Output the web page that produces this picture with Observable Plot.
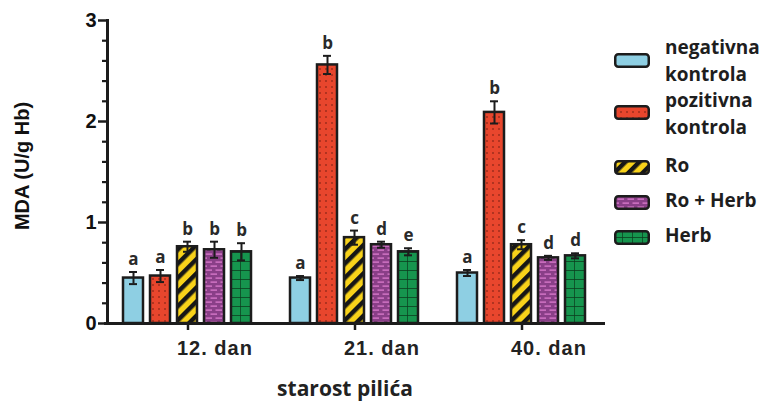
<!DOCTYPE html>
<html><head><meta charset="utf-8">
<script src="https://cdn.jsdelivr.net/npm/d3@7"></script>
<script src="https://cdn.jsdelivr.net/npm/@observablehq/plot@0.6"></script>
<style>
body{margin:0;background:#fff;}
#wrap{position:relative;width:762px;height:401px;overflow:hidden;background:#fff;}
.lt{position:absolute;left:665px;font-family:"Open Sans",sans-serif;font-weight:700;font-size:19px;line-height:26.7px;color:#1e1e1e;white-space:nowrap;}
.sw{position:absolute;left:612px;}
</style></head><body><div id="wrap"></div>
<script>
// ---- data ----
const groups = ["12. dan", "21. dan", "40. dan"];
const treatments = ["negativna kontrola", "pozitivna kontrola", "Ro", "Ro + Herb", "Herb"];
// mean MDA per treatment, across groups (12., 21., 40. dan)
const meanNeg    = [0.45, 0.45, 0.50];
const meanPoz    = [0.47, 2.56, 2.09];
const meanRo     = [0.76, 0.85, 0.78];
const meanRoHerb = [0.73, 0.78, 0.65];
const meanHerb   = [0.71, 0.71, 0.67];
// error (±)
const errNeg    = [0.06, 0.02, 0.03];
const errPoz    = [0.06, 0.09, 0.11];
const errRo     = [0.05, 0.07, 0.045];
const errRoHerb = [0.08, 0.03, 0.02];
const errHerb   = [0.085, 0.035, 0.025];
// significance letters
const letNeg    = ["a", "a", "a"];
const letPoz    = ["a", "b", "b"];
const letRo     = ["b", "c", "c"];
const letRoHerb = ["b", "d", "d"];
const letHerb   = ["b", "e", "d"];
const yMajor = [0, 1, 2, 3];
const yMinor = [0.2, 0.4, 0.6, 0.8, 1.2, 1.4, 1.6, 1.8, 2.2, 2.4, 2.6, 2.8];

const means = [meanNeg, meanPoz, meanRo, meanRoHerb, meanHerb];
const errs = [errNeg, errPoz, errRo, errRoHerb, errHerb];
const lets = [letNeg, letPoz, letRo, letRoHerb, letHerb];
const table = [];
groups.forEach((g, i) => treatments.forEach((t, j) => table.push({
  group: g, treatment: t, mean: means[j][i], err: errs[j][i], letter: lets[j][i]
})));

const fills = ["#8ecfe3", "url(#pPoz)", "url(#pRo)", "url(#pRoH)", "url(#pHerb)"];
const ink = "#1c1c1c";

const chart = Plot.plot({
  width: 762, height: 401,
  marginLeft: 104, marginRight: 157, marginTop: 20, marginBottom: 78,
  style: {background: "transparent", fontFamily: "Liberation Sans, Arial, sans-serif", overflow: "visible"},
  fx: {domain: groups, padding: 0, label: null},
  x: {domain: treatments, paddingInner: 0.257, paddingOuter: 0.654, axis: null},
  y: {domain: [0, 3], axis: null},
  color: {domain: treatments, range: fills},
  marks: [
    Plot.barY(table, {fx: "group", x: "treatment", y: "mean", fill: "treatment", stroke: ink, strokeWidth: 2.5}),
    Plot.ruleX(table, {fx: "group", x: "treatment", y1: d => d.mean - d.err, y2: d => d.mean + d.err, stroke: ink, strokeWidth: 2}),
    Plot.tickY(table, {fx: "group", x: "treatment", y: d => d.mean + d.err, insetLeft: 6, insetRight: 6, stroke: ink, strokeWidth: 2}),
    Plot.tickY(table, {fx: "group", x: "treatment", y: d => d.mean - d.err, insetLeft: 6, insetRight: 6, stroke: ink, strokeWidth: 2}),
    Plot.text(table, {fx: "group", x: "treatment", y: d => d.mean + d.err, text: "letter", lineAnchor: "bottom", dy: -7,
      fontSize: 17, fontWeight: "bold", fill: "#2a2a2a", fontFamily: "Open Sans"}),
    Plot.ruleY([0], {stroke: ink, strokeWidth: 3}),
    Plot.frame({anchor: "left", facetAnchor: "left", stroke: ink, strokeWidth: 3, dx: 3}),
    Plot.axisY(yMajor, {tickSize: 9, tickPadding: 2, dx: 3, fontSize: 20, fontWeight: "bold", fill: "#111",
      tickFormat: d => String(d), stroke: ink, strokeWidth: 2.5,
      label: "MDA (U/g Hb)", labelArrow: "none", labelAnchor: "center", labelOffset: 90}),
    Plot.axisY(yMinor, {tickSize: 5, dx: 3, tickFormat: () => "", stroke: ink, strokeWidth: 2.2, label: null}),
    Plot.axisFx({anchor: "bottom", tickSize: 7, tickFormat: () => "", stroke: ink, strokeWidth: 2.5, label: null}),
    Plot.axisFx({anchor: "bottom", tickSize: 0, tickPadding: 17, textAnchor: "start", dx: -11, fontSize: 20, fontWeight: "bold", fill: "#222",
      label: "starost pilića", labelArrow: "none", labelAnchor: "center", labelOffset: 72})
  ]
});

const defs = `
<pattern id="pPoz" patternUnits="userSpaceOnUse" width="6" height="6">
  <rect width="6" height="6" fill="#e8462d"/><circle cx="3" cy="3" r="0.8" fill="#6b1a0e"/></pattern>
<pattern id="pRo" patternUnits="userSpaceOnUse" width="10" height="10" patternTransform="rotate(45)">
  <rect width="10" height="10" fill="#f8d21a"/><rect width="4.5" height="10" fill="#161616"/></pattern>
<pattern id="pRoH" patternUnits="userSpaceOnUse" width="10" height="8">
  <rect width="10" height="8" fill="#8a3f88"/>
  <rect x="0.5" y="1.5" width="6.5" height="1.2" fill="#e27fd2"/>
  <rect x="5.5" y="5.5" width="6.5" height="1.2" fill="#e27fd2"/>
  <rect x="-4.5" y="5.5" width="6.5" height="1.2" fill="#e27fd2"/></pattern>
<pattern id="pHerb" patternUnits="userSpaceOnUse" width="10" height="9">
  <rect width="10" height="9" fill="#16954e"/><path d="M0 0V9M0 0H10" stroke="#0b3a1d" stroke-width="1.4"/></pattern>`;
const svgSel = d3.select(chart);
svgSel.insert("defs", ":first-child").html(defs);
svgSel.selectAll('g[aria-label="fx-axis tick label"]').style("letter-spacing", "1px").style("font-family", "Liberation Sans");
function shift(sel, dx, dy) {
  sel.each(function () {
    const t = this.getAttribute("transform") || "";
    this.setAttribute("transform", `translate(${dx},${dy}) ${t}`);
  });
}
const fxLab = svgSel.selectAll('g[aria-label="fx-axis label"]')
  .style("font-family", "Open Sans").style("font-size", "21px").style("font-weight", "700").attr("fill", "#222");
shift(fxLab, -10, 0);
const yLab = svgSel.selectAll('g[aria-label="y-axis label"]')
  .style("font-family", "Liberation Sans").style("font-size", "20px").style("font-weight", "700").attr("fill", "#111");
shift(yLab, 0, -6);

const wrap = document.getElementById("wrap");
wrap.appendChild(chart);

// legend
const swTops = [53, 105, 160, 195, 230];
const txTops = [34.3, 87.3, 152.3, 187.3, 222.3];
treatments.forEach((t, j) => {
  const s = document.createElementNS("http://www.w3.org/2000/svg", "svg");
  s.setAttribute("class", "sw");
  s.setAttribute("width", 40); s.setAttribute("height", 20);
  s.style.top = (swTops[j] - 2) + "px";
  s.innerHTML = `<rect x="3.25" y="3.25" width="33.5" height="12.5" rx="3" fill="${fills[j]}" stroke="${ink}" stroke-width="2.5"/>`;
  wrap.appendChild(s);
  const d = document.createElement("div");
  d.className = "lt";
  d.style.top = txTops[j] + "px";
  d.innerHTML = t.replace(" kontrola", "<br>kontrola");
  wrap.appendChild(d);
});
</script></body></html>
